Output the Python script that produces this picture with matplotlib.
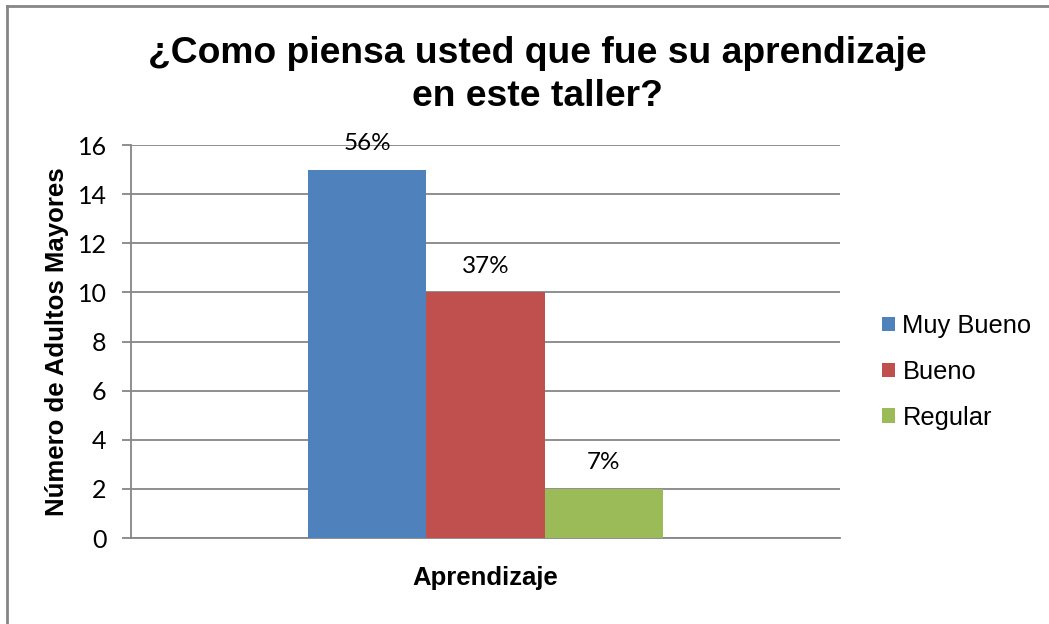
import matplotlib.pyplot as plt
from matplotlib.lines import Line2D

categories = ['Muy Bueno', 'Bueno', 'Regular']
values = [15, 10, 2]
percent_labels = ['56%', '37%', '7%']
colors = ['#4F81BD', '#C0504D', '#9BBB59']
yticks = [0, 2, 4, 6, 8, 10, 12, 14, 16]

fig = plt.figure(figsize=(10.49, 6.24), dpi=100)
ax = fig.add_axes([0.1249, 0.1378, 0.6759, 0.6298])

width = 1 / 6
offsets = [-width, 0, width]
for cat, val, lab, col, off in zip(categories, values, percent_labels, colors, offsets):
    ax.bar(off, val, width=width, color=col, label=cat, zorder=3)
    ax.annotate(lab, (off, val), xytext=(0, 19), textcoords='offset points',
                ha='center', va='center', fontsize=17.5, family='Lato')

ax.set_xlim(-0.5, 0.5)
ax.set_ylim(0, 16)
ax.set_yticks(yticks)
ax.set_xticks([])
ax.grid(axis='y', color='#868686', linewidth=1.3, zorder=0)
for s in ['top', 'right']:
    ax.spines[s].set_visible(False)
for s in ['left', 'bottom']:
    ax.spines[s].set_color('#868686')
    ax.spines[s].set_linewidth(1.3)
ax.tick_params(axis='y', length=6.5, width=1.3, color='#868686', labelsize=18, pad=11)
for t in ax.get_yticklabels():
    t.set_family('Lato')

ax.set_ylabel('Número de Adultos Mayores', fontsize=18.5, fontweight='bold',
              family='Liberation Sans', labelpad=6)
ax.set_xlabel('Aprendizaje', fontsize=18.5, fontweight='bold',
              family='Liberation Sans', labelpad=20)

fig.text(0.512, 0.88, '¿Como piensa usted que fue su aprendizaje\nen este taller?',
         ha='center', va='center', fontsize=26.8, fontweight='bold',
         family='Liberation Sans', linespacing=1.3)

leg = fig.legend(loc='center left', bbox_to_anchor=(0.8408, 0.404), frameon=False,
                 prop={'family': 'Liberation Sans', 'size': 18.4},
                 handlelength=0.5, handleheight=0.5, handletextpad=0.3,
                 labelspacing=0.85, borderpad=0, borderaxespad=0)

# outer chart border (left and top visible)
fig.add_artist(Line2D([0.0067, 0.0067], [0, 0.9904], color='#868686', linewidth=2,
                      transform=fig.transFigure))
fig.add_artist(Line2D([0.0067, 1], [0.9904, 0.9904], color='#868686', linewidth=2,
                      transform=fig.transFigure))

fig.savefig('out.png', dpi=100)
